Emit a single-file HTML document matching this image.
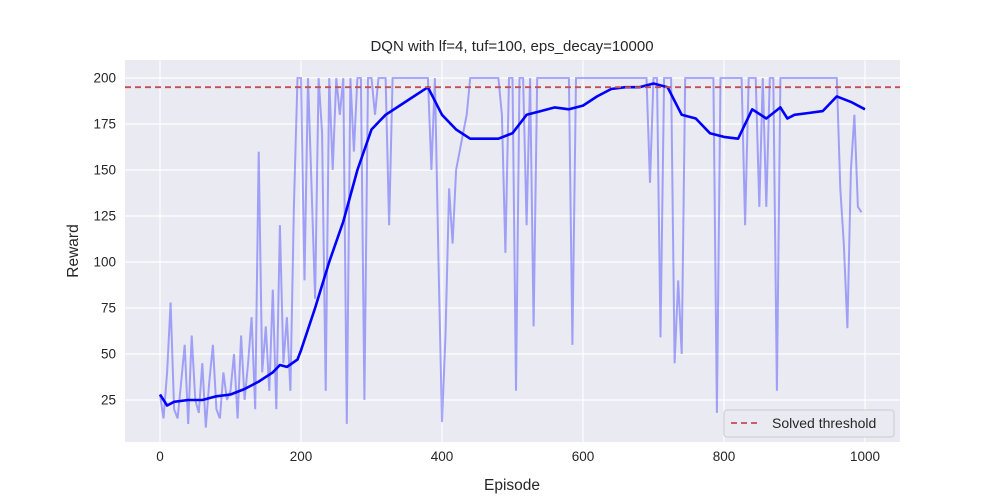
<!DOCTYPE html>
<html><head><meta charset="utf-8"><style>
body{margin:0;background:#fff;}
svg{display:block;font-family:"Liberation Sans",Arial,sans-serif;}
</style></head><body>
<svg id="chart" width="1000" height="500"></svg>
<script>
const rawEpisodes5 = 5;
const rawRewards = [
28,15,40,78,20,15,35,55,12,60,25,18,45,10,35,55,20,15,40,25,
30,50,15,60,25,45,70,20,160,40,65,30,85,20,120,45,70,30,130,200,
200,90,200,140,80,200,170,30,200,150,200,180,200,12,200,160,200,200,25,200,
200,180,200,200,200,120,200,200,200,200,200,200,200,200,200,200,200,150,200,100,
13,60,140,110,150,160,170,180,200,200,200,200,200,200,200,200,200,180,105,200,
200,30,200,200,120,200,65,200,200,200,200,200,200,200,200,200,200,55,200,200,
200,200,200,200,200,200,200,200,200,200,200,200,200,200,200,200,200,200,200,143,
200,200,59,200,200,200,45,90,50,200,200,200,200,200,200,200,200,200,18,200,
200,200,200,200,200,200,120,200,200,200,130,200,130,200,200,30,200,200,200,200,
200,200,200,200,200,200,200,200,200,200,200,200,200,140,110,64,150,180,130,127];
const maEpisodes = [0,10,20,40,60,80,100,120,140,160,170,180,195,200,220,240,260,280,300,320,340,360,380,400,420,440,460,480,500,520,540,560,580,600,620,640,660,680,700,720,740,760,780,800,820,840,860,880,890,900,920,940,960,980,1000];
const maValues = [28,22,24,25,25,27,28,31,35,40,44,43,47,52,75,100,122,150,172,180,185,190,195,180,172,167,167,167,170,180,182,184,183,185,190,194,195,195,197,195,180,178,170,168,167,183,178,184,178,180,181,182,190,187,183];
const xTicks = [0,200,400,600,800,1000];
const yTicks = [25,50,75,100,125,150,175,200];
const threshold = 195;

const NS="http://www.w3.org/2000/svg";
const svg=document.getElementById('chart');
const L=125,R=900,T=60,B=442;
const xS=v=>160+v*0.705;
const yS=v=>446-v*1.84;
function mk(t,a){const e=document.createElementNS(NS,t);for(const k in a)e.setAttribute(k,a[k]);svg.appendChild(e);return e;}
let e=mk('rect',{x:L,y:T,width:R-L,height:B-T,fill:'#eaeaf2'});


xTicks.forEach(t=>{
 let g=mk('line',{x1:xS(t),x2:xS(t),y1:T,y2:B,stroke:'#fff','stroke-width':1.2});
 
 
 let tx=mk('text',{x:xS(t),y:B+19,'text-anchor':'middle','font-size':13.5,fill:'#262626'});tx.textContent=t;
 
 
});
yTicks.forEach(t=>{
 let g=mk('line',{x1:L,x2:R,y1:yS(t),y2:yS(t),stroke:'#fff','stroke-width':1.2});
 
 
 let tx=mk('text',{x:L-9,y:yS(t)+4.5,'text-anchor':'end','font-size':13.5,fill:'#262626'});tx.textContent=t;
 
 
});
let rp=rawRewards.map((v,i)=>xS(i*rawEpisodes5).toFixed(1)+','+yS(v).toFixed(1)).join(' ');
let raw=mk('polyline',{points:rp,fill:'none',stroke:'#0000ff','stroke-opacity':0.32,'stroke-width':2});


let mp=maValues.map((v,i)=>xS(maEpisodes[i]).toFixed(1)+','+yS(v).toFixed(1)).join(' ');
let ma=mk('polyline',{points:mp,fill:'none',stroke:'#0000ff','stroke-width':2.6,'stroke-linejoin':'round'});


let th=mk('line',{x1:L,x2:R,y1:yS(threshold),y2:yS(threshold),stroke:'#c44e52','stroke-width':1.8,'stroke-dasharray':'6,4'});


</script>
<div style="position:absolute;left:0;top:0;width:1000px;height:500px;pointer-events:none">
<svg width="1000" height="500" style="position:absolute;left:0;top:0">
<text x="512" y="51" text-anchor="middle" font-size="15" fill="#262626">DQN with lf=4, tuf=100, eps_decay=10000</text>
<text x="512" y="490" text-anchor="middle" font-size="15.5" fill="#262626">Episode</text>
<text x="78" y="251" text-anchor="middle" font-size="15.5" fill="#262626" transform="rotate(-90 78 251)">Reward</text>
<g>
<rect x="724" y="410" width="170" height="27" rx="3" fill="#eaeaf2" stroke="#cccccc" stroke-width="1"/>
<line x1="731" y1="423" x2="760" y2="423" stroke="#c44e52" stroke-width="1.8" stroke-dasharray="6,4"/>
<text x="772" y="428" font-size="14" fill="#262626">Solved threshold</text>
</g>
</svg></div>
</body></html>
